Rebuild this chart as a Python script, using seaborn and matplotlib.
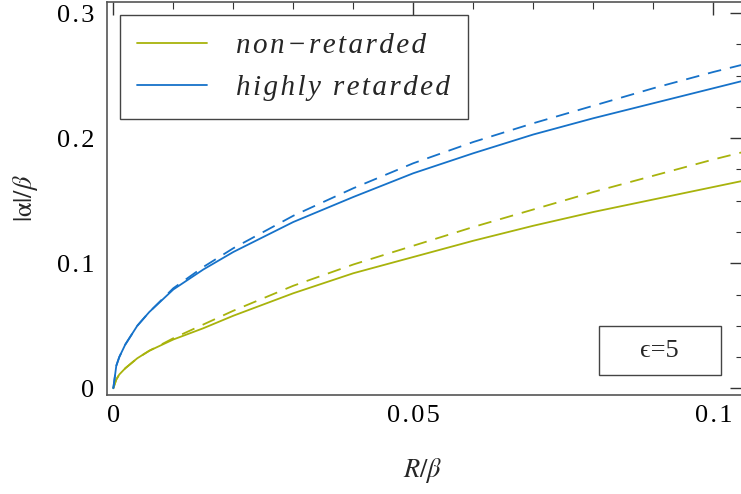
import numpy as np
import pandas as pd
import matplotlib
matplotlib.use('Agg')
import matplotlib.pyplot as plt
from matplotlib.patches import Rectangle
from matplotlib.lines import Line2D
import seaborn as sns

sns.set_style('white')
plt.rcParams['font.family'] = ['Liberation Serif', 'DejaVu Serif']
plt.rcParams['mathtext.fontset'] = 'stix'

# values
R = [0, 0.0005, 0.001, 0.002, 0.004, 0.006, 0.01, 0.015, 0.02, 0.03,
     0.04, 0.05, 0.06, 0.07, 0.08, 0.09, 0.1, 0.105]
high_solid = [0, 0.018, 0.025, 0.035, 0.050, 0.061, 0.079, 0.095, 0.109, 0.133,
              0.153, 0.172, 0.188, 0.203, 0.216, 0.228, 0.240, 0.246]
high_dash = [0, 0.018, 0.025, 0.035, 0.050, 0.061, 0.080, 0.097, 0.112, 0.138,
             0.160, 0.180, 0.197, 0.212, 0.226, 0.240, 0.253, 0.259]
non_solid = [0, 0.007, 0.011, 0.016, 0.024, 0.030, 0.039, 0.048, 0.058, 0.076,
             0.092, 0.105, 0.118, 0.130, 0.141, 0.151, 0.161, 0.166]
non_dash = [0, 0.007, 0.011, 0.016, 0.024, 0.030, 0.040, 0.051, 0.062, 0.082,
            0.099, 0.114, 0.129, 0.143, 0.157, 0.170, 0.183, 0.189]
legend_labels = ['non\u2212retarded', 'highly retarded']
xtick_vals = [0, 0.05, 0.1]
xtick_labels = ['0', '0.05', '0.1']
ytick_vals = [0, 0.1, 0.2, 0.3]
ytick_labels = ['0', '0.1', '0.2', '0.3']

green = '#a8b30c'
blue = '#1672c9'


def spaced(s):
    # mimic the loose letter spacing of the original
    return '\u200a'.join(s)


fig = plt.figure(figsize=(7.41, 4.94), dpi=100)
ax = fig.add_axes([107/741, 99/494, 636/741, 393/494])

lw = 1.3
dash = (0, (7.5, 5))
sns.lineplot(x=R, y=non_solid, color=green, lw=lw, ax=ax)
sns.lineplot(x=R, y=non_dash, color=green, lw=lw, ax=ax, linestyle=dash)
sns.lineplot(x=R, y=high_solid, color=blue, lw=lw, ax=ax)
sns.lineplot(x=R, y=high_dash, color=blue, lw=lw, ax=ax, linestyle=dash)

ax.set_xlim(-0.00105, 0.10495)
ax.set_ylim(-0.0054, 0.309)

ax.set_xticks(xtick_vals, [spaced(t) for t in xtick_labels])
ax.set_yticks(ytick_vals, [spaced(t) for t in ytick_labels])
ax.set_xticks(np.arange(0, 0.105, 0.01), minor=True)
ax.set_yticks(np.arange(0, 0.31, 0.025), minor=True)
ax.tick_params(which='both', direction='in', top=True, right=True, colors='#333333', labelcolor='black')
ax.tick_params(which='major', length=9.5, width=1, labelsize=19)
ax.tick_params(axis='y', which='major', pad=9)
ax.tick_params(axis='x', which='major', pad=7)
ax.tick_params(which='minor', length=5, width=0.8)
for s in ax.spines.values():
    s.set_color('#555555')
    s.set_linewidth(1.2)

ax.set_xlabel(r'$R/\beta$', fontsize=19)
ax.set_ylabel(r'$|\mathrm{\alpha}|/\beta$', fontsize=19)
ax.xaxis.set_label_coords(0.497, -0.155)
ax.yaxis.set_label_coords(-0.105, 0.5)

handles = [Line2D([], [], color=green, lw=lw), Line2D([], [], color=blue, lw=lw)]
leg = ax.legend(handles, [spaced(t) for t in legend_labels],
                loc='upper left', bbox_to_anchor=(0.02, 0.967), borderaxespad=0,
                prop={'family': ['Liberation Serif', 'DejaVu Serif'], 'style': 'italic', 'size': 21},
                handlelength=2.4, handletextpad=1.0, labelspacing=0.55,
                borderpad=0.6, fancybox=False, framealpha=1, edgecolor='#444444')
leg.get_frame().set_linewidth(1)

ax.add_patch(Rectangle((0.7729, 0.0509), 0.1924, 0.1247, transform=ax.transAxes,
                       fill=False, edgecolor='#444444', lw=1))
ax.text(0.869, 0.113, '\u03f5=5', transform=ax.transAxes, ha='center', va='center',
        fontsize=19, family=['Liberation Serif', 'DejaVu Serif'])

fig.savefig('out.png', dpi=100)
